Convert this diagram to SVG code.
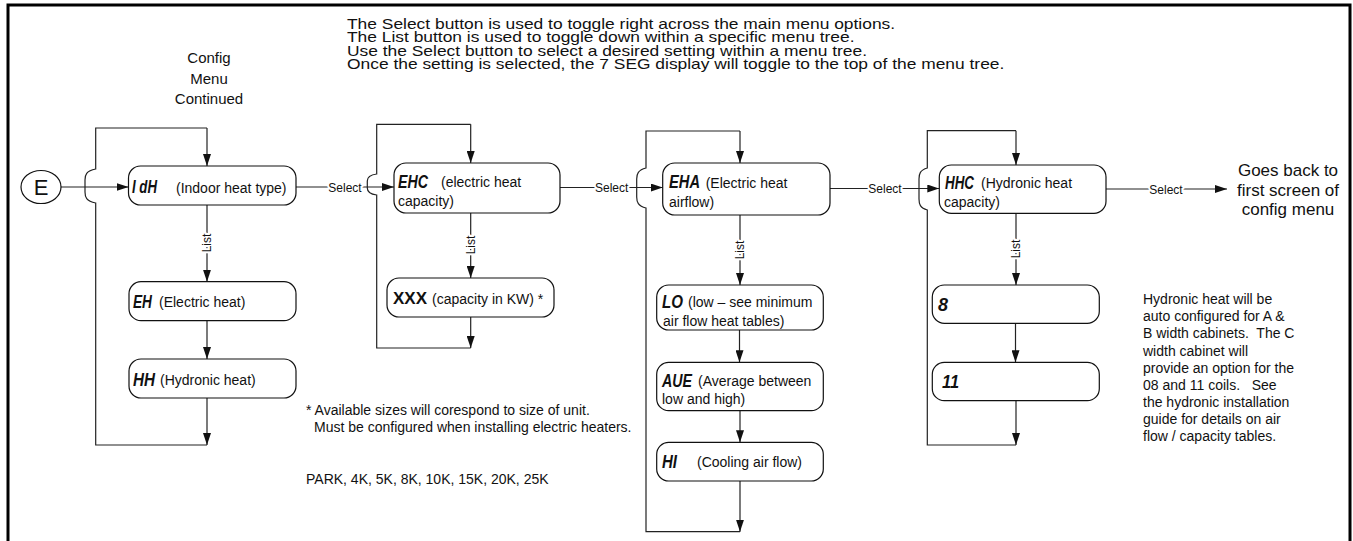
<svg xmlns="http://www.w3.org/2000/svg" width="1353" height="541" viewBox="0 0 1353 541">
<style>
.t{font-family:"Liberation Sans",Arial,sans-serif;fill:#111}
.top{font-size:15px}
.cfg{font-size:15px;text-anchor:middle}
.bx{font-size:14px}
.pre{white-space:pre}
.seg{font-family:"Liberation Sans",Arial,sans-serif;font-weight:bold;font-style:italic;font-size:18px;fill:#111;white-space:pre}
.lbl{font-family:"Liberation Sans",Arial,sans-serif;font-size:12px;fill:#111;paint-order:stroke;stroke:#fff;stroke-width:4px;stroke-linejoin:round}
.box{fill:#fff;stroke:#111;stroke-width:1.2}
.ln{fill:none;stroke:#222;stroke-width:1.2}
.ar{fill:none;stroke:#222;stroke-width:1.2;marker-end:url(#ah)}
</style>
<defs>
<marker id="ah" viewBox="0 0 12 8" refX="12" refY="4" markerWidth="12" markerHeight="8" markerUnits="userSpaceOnUse" orient="auto"><path d="M0,0 L12,4 L0,8 z" fill="#111"/></marker>
</defs>
<rect x="8" y="5" width="1342" height="600" fill="#fff" stroke="#000" stroke-width="3"/>

<g id="notes">
<g transform="translate(347,0) scale(1.16,1)">
<text class="t top" x="0" y="29">The Select button is used to toggle right across the main menu options.</text>
<text class="t top" x="0" y="42.5">The List button is used to toggle down within a specific menu tree.</text>
<text class="t top" x="0" y="56">Use the Select button to select a desired setting within a menu tree.</text>
<text class="t top" x="0" y="69.5">Once the setting is selected, the 7 SEG display will toggle to the top of the menu tree.</text>
</g>
<text class="t cfg" x="209" y="63">Config</text>
<text class="t cfg" x="209" y="84">Menu</text>
<text class="t cfg" x="209" y="104">Continued</text>
<text class="t bx" x="306" y="415">* Available sizes will corespond to size of unit.</text>
<text class="t bx" x="314" y="432">Must be configured when installing electric heaters.</text>
<text class="t bx" x="306" y="484">PARK, 4K, 5K, 8K, 10K, 15K, 20K, 25K</text>
<text class="t bx" x="1143" y="304">Hydronic heat will be</text>
<text class="t bx" x="1143" y="321">auto configured for A &amp;</text>
<text class="t bx pre" x="1143" y="338" xml:space="preserve">B width cabinets.  The C</text>
<text class="t bx" x="1143" y="355.5">width cabinet will</text>
<text class="t bx" x="1143" y="372.5">provide an option for the</text>
<text class="t bx pre" x="1143" y="389.5" xml:space="preserve">08 and 11 coils.   See</text>
<text class="t bx" x="1143" y="407">the hydronic installation</text>
<text class="t bx" x="1143" y="424">guide for details on air</text>
<text class="t bx" x="1143" y="441">flow / capacity tables.</text>
</g>

<g id="connectors">
<path class="ar" d="M61,187 H128.5"/>
<path class="ln" d="M207,445 H95.7 V203 C86,201 85,197 85,192 V180 C85,175 86,171 95.7,169 V128 H207"/>
<path class="ar" d="M207,128 V166"/>
<path class="ar" d="M207,205 V281.7"/>
<path class="ar" d="M207,321 V359"/>
<path class="ar" d="M207,398 V445"/>
<path class="ar" d="M296,187 H394"/>
<path class="ln" d="M470.7,348 H376.7 V195 C369,194 367.3,191 367.3,188 V181 C367.3,178 369,175 376.7,174 V124.3 H470.7"/>
<path class="ar" d="M470.7,124.3 V163"/>
<path class="ar" d="M470.7,213 V278"/>
<path class="ar" d="M470.7,317 V348"/>
<path class="ar" d="M560,187.5 H662.7"/>
<path class="ln" d="M740,531.7 H646 V208 C638,206 636.7,202 636.7,197 V179 C636.7,174 638,170 646,168 V131 H740"/>
<path class="ar" d="M740,131 V163"/>
<path class="ar" d="M740,215 V285"/>
<path class="ar" d="M739.5,330 V362.3"/>
<path class="ar" d="M740,410.7 V442.3"/>
<path class="ar" d="M740,481 V531.7"/>
<path class="ar" d="M830,188.5 H939.3"/>
<path class="ln" d="M1016,445 H927.3 V210 C920,208 919,204 919,199 V179 C919,174 920,170 927.3,168 V130.7 H1016"/>
<path class="ar" d="M1016,130.7 V165"/>
<path class="ar" d="M1016,213.3 V285"/>
<path class="ar" d="M1015.5,323.3 V362.3"/>
<path class="ar" d="M1016,400.7 V445"/>
<path class="ar" d="M1106,189 H1227"/>
<text class="lbl" x="345" y="191.5" text-anchor="middle">Select</text>
<text class="lbl" x="611.7" y="192" text-anchor="middle">Select</text>
<text class="lbl" x="885" y="193" text-anchor="middle">Select</text>
<text class="lbl" x="1166" y="193.5" text-anchor="middle">Select</text>
<text class="lbl" transform="translate(211,243) rotate(-90)" text-anchor="middle">List</text>
<text class="lbl" transform="translate(474.7,245) rotate(-90)" text-anchor="middle">List</text>
<text class="lbl" transform="translate(744,250) rotate(-90)" text-anchor="middle">List</text>
<text class="lbl" transform="translate(1020,249) rotate(-90)" text-anchor="middle">List</text>
</g>

<g id="nodeE">
<ellipse cx="41" cy="187" rx="20" ry="16.5" fill="#fff" stroke="#111" stroke-width="1.2"/>
<text class="t" x="41" y="195" font-size="22" text-anchor="middle">E</text>
</g>

<g id="nodeIdH">
<rect class="box" x="128.5" y="166" width="167.5" height="39" rx="12"/>
<text class="seg" x="132" y="193" xml:space="preserve" textLength="25" lengthAdjust="spacingAndGlyphs">I dH</text>
<text class="t bx" x="176" y="193">(Indoor heat type)</text>
</g>
<g id="nodeEH">
<rect class="box" x="129" y="281.7" width="167" height="39" rx="12"/>
<text class="seg" x="133" y="308" textLength="19" lengthAdjust="spacingAndGlyphs">EH</text>
<text class="t bx" x="159" y="307">(Electric heat)</text>
</g>
<g id="nodeHH">
<rect class="box" x="129" y="359" width="167" height="39" rx="12"/>
<text class="seg" x="133" y="386" textLength="22" lengthAdjust="spacingAndGlyphs">HH</text>
<text class="t bx" x="160" y="385">(Hydronic heat)</text>
</g>

<g id="nodeEHC">
<rect class="box" x="394" y="163" width="166" height="50" rx="12"/>
<text class="seg" x="398" y="188" textLength="30" lengthAdjust="spacingAndGlyphs">EHC</text>
<text class="t bx" x="441" y="187">(electric heat</text>
<text class="t bx" x="398" y="206">capacity)</text>
</g>
<g id="nodeXXX">
<rect class="box" x="387" y="278" width="167" height="39" rx="12"/>
<text class="t" x="393" y="304" font-size="17" font-weight="bold">XXX</text>
<text class="t bx" x="432" y="304">(capacity in KW) *</text>
</g>

<g id="nodeEHA">
<rect class="box" x="662.7" y="163" width="167.3" height="52" rx="12"/>
<text class="seg" x="669" y="188" textLength="31" lengthAdjust="spacingAndGlyphs">EHA</text>
<text class="t bx" x="705.7" y="188">(Electric heat</text>
<text class="t bx" x="669" y="207">airflow)</text>
</g>
<g id="nodeLO">
<rect class="box" x="656.7" y="285" width="166.6" height="45" rx="12"/>
<text class="seg" x="662" y="308" textLength="21" lengthAdjust="spacingAndGlyphs">LO</text>
<text class="t bx" x="688" y="307">(low – see minimum</text>
<text class="t bx" x="663" y="326">air flow heat tables)</text>
</g>
<g id="nodeAVE">
<rect class="box" x="656.7" y="362.3" width="166.6" height="48.4" rx="12"/>
<text class="seg" x="662" y="387" textLength="30" lengthAdjust="spacingAndGlyphs">AUE</text>
<text class="t bx" x="698" y="386">(Average between</text>
<text class="t bx" x="662" y="404">low and high)</text>
</g>
<g id="nodeHI">
<rect class="box" x="656.7" y="442.3" width="166.6" height="38.7" rx="12"/>
<text class="seg" x="662" y="468" textLength="15" lengthAdjust="spacingAndGlyphs">HI</text>
<text class="t bx" x="697" y="467">(Cooling air flow)</text>
</g>

<g id="nodeHHC">
<rect class="box" x="939.3" y="165" width="166.7" height="48.3" rx="12"/>
<text class="seg" x="945" y="189" textLength="29" lengthAdjust="spacingAndGlyphs">HHC</text>
<text class="t bx" x="981" y="188">(Hydronic heat</text>
<text class="t bx" x="944" y="207">capacity)</text>
</g>
<g id="node8">
<rect class="box" x="932.3" y="285" width="167" height="38.3" rx="12"/>
<text class="seg" x="938" y="311" textLength="10" lengthAdjust="spacingAndGlyphs">8</text>
</g>
<g id="node11">
<rect class="box" x="932.3" y="362.3" width="167" height="38.4" rx="12"/>
<text class="seg" x="942" y="388" textLength="17" lengthAdjust="spacingAndGlyphs">11</text>
</g>

<g id="exitText">
<text class="t" x="1288" y="176" font-size="17" text-anchor="middle">Goes back to</text>
<text class="t" x="1288" y="195.5" font-size="17" text-anchor="middle">first screen of</text>
<text class="t" x="1288" y="215" font-size="17" text-anchor="middle">config menu</text>
</g>
</svg>
